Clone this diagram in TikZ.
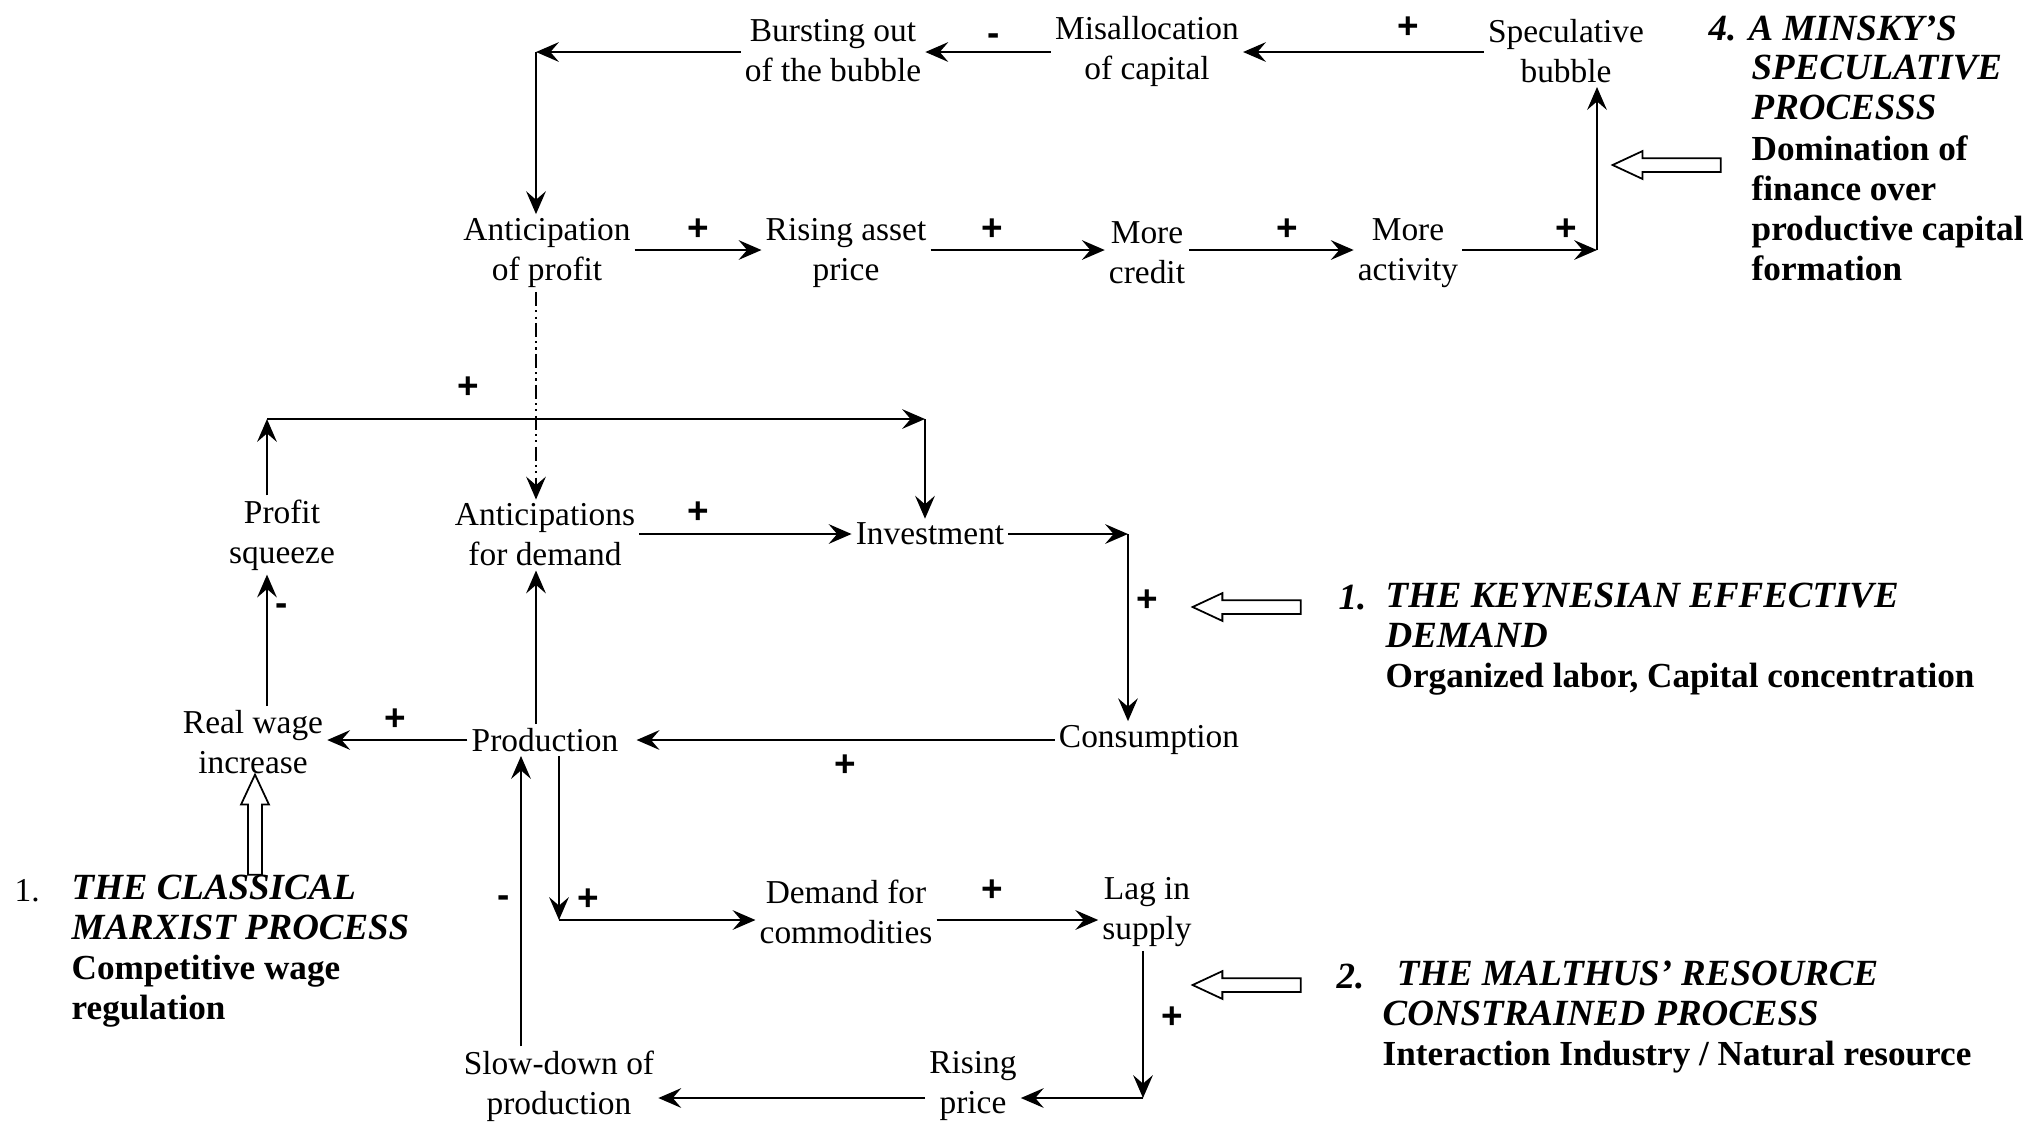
\documentclass[tikz,border=0pt]{standalone}
\usepackage{fontspec}
\setmainfont{Liberation Serif}
\setsansfont{Liberation Sans}
\usetikzlibrary{arrows.meta, shapes.arrows, positioning, calc}

\newcommand{\diagfont}{\fontsize{9.5}{11.4}\selectfont}
\newcommand{\notefont}{\fontsize{10}{11.4}\selectfont\bfseries}
\newcommand{\titlefont}{\fontsize{10.5}{11.4}\selectfont\bfseries\itshape}

\begin{document}
\begin{tikzpicture}[
    x=0.01cm, y=-0.01cm,
    box/.style={align=center, inner sep=1pt, font=\diagfont},
    sign/.style={inner sep=0pt, font=\sffamily\bfseries\fontsize{10.5}{11}\selectfont},
    link/.style={-{Stealth[length=6.5pt, width=5.6pt, inset=2.4pt]}, line width=0.6pt},
    hintline/.style={line width=0.4pt, dash pattern=on 4pt off 1.2pt on 0.6pt off 1.2pt on 0.6pt off 1.2pt},
    hollow/.style={single arrow, draw, line width=0.5pt, inner sep=0.06cm, minimum height=1.08cm, single arrow head extend=0.07cm, single arrow tip angle=50},
    note/.style={align=left, inner sep=0pt, anchor=west, font=\notefont},
]
    \useasboundingbox (0,0) rectangle (2026,1123);

    % Speculative loop
    \node[box] (burst) at (833,51) {Bursting out\\of the bubble};
    \node[box] (misalloc) at (1147,51) {Misallocation\\of capital};
    \node[box] (spec) at (1566,51) {Speculative\\bubble};
    \node[box] (antprofit) at (547,253) {Anticipation\\of profit};
    \node[box] (assetprice) at (846,253) {Rising asset\\price};
    \node[box] (credit) at (1147,253) {More\\credit};
    \node[box] (activity) at (1408,253) {More\\activity};

    % Demand loop
    \node[box] (profit) at (282,535) {Profit\\squeeze};
    \node[box] (antdemand) at (545,535) {Anticipations\\for demand};
    \node[box] (invest) at (930,534) {Investment};
    \node[box] (consum) at (1149,740) {Consumption};
    \node[box] (product) at (545,740) {Production};
    \node[box] (realwage) at (253,742) {Real wage\\increase};

    % Resource loop
    \node[box] (demand) at (846,912) {Demand for\\commodities};
    \node[box] (lag) at (1147,912) {Lag in\\supply};
    \node[box] (rising) at (973,1086) {Rising\\price};
    \node[box] (slowdown) at (559,1086) {Slow-down of\\production};

    % Corners
    \coordinate (c1) at (536,52);
    \coordinate (c2) at (1597,250);
    \coordinate (c3) at (267,419);
    \coordinate (c4) at (925,419);
    \coordinate (c5) at (1128,534);
    \coordinate (c6) at (559,920);
    \coordinate (c7) at (1143,1098);
    \coordinate (c8) at (521,1098);

    % Connectors, top
    \draw[link] (spec.west |- c1) -- (c1 -| misalloc.east);
    \draw[link] (misalloc.west |- c1) -- (c1 -| burst.east);
    \draw[link] (burst.west |- c1) -- (c1);
    \draw[link] (c1) -- (c1 |- antprofit.north);
    \draw[link, hintline] (c1 |- antprofit.south) -- (c1 |- antdemand.north);
    \draw[link] (antprofit.east |- c2) -- (c2 -| assetprice.west);
    \draw[link] (assetprice.east |- c2) -- (c2 -| credit.west);
    \draw[link] (credit.east |- c2) -- (c2 -| activity.west);
    \draw[link] (activity.east |- c2) -- (c2);
    \draw[link] (c2) -- (c2 |- spec.south);

    % Connectors, middle
    \draw[link] (c3 |- profit.north) -- (c3);
    \draw[link] (c3) -- (c4);
    \draw[link] (c4) -- (c4 |- invest.north);
    \draw[link] (antdemand.east |- c5) -- (c5 -| invest.west);
    \draw[link] (invest.east) -- (c5);
    \draw[link] (c5) -- (c5 |- consum.north);
    \draw[link, shorten >=4pt] (consum.west) -- (product.east);
    \draw[link] (product.west) -- (product.west -| realwage.east);
    \draw[link] (c3 |- realwage.north) -- (c3 |- profit.south);
    \draw[link] (c1 |- product.north) -- (c1 |- antdemand.south);

    % Connectors, bottom
    \draw[link] (c6 |- product.south) -- (c6);
    \draw[link] (c6) -- (c6 -| demand.west);
    \draw[link] (demand.east |- c6) -- (c6 -| lag.west);
    \draw[link] (c7 |- lag.south) -- (c7);
    \draw[link] (c7) -- (c7 -| rising.east);
    \draw[link] (rising.west |- c7) -- (c7 -| slowdown.east);
    \draw[link] (c8 |- slowdown.north) -- (c8 |- product.south);

    % Signs
    \node[sign] (s1) at (1408,28) {+};
    \node[sign] (s2) at (994,40) {-};
    \node[sign] (s3) at (698,230) {+};
    \node[sign] (s4) at (992,230) {+};
    \node[sign] (s5) at (1287,230) {+};
    \node[sign] (s6) at (1566,230) {+};
    \node[sign] (s7) at (468,388) {+};
    \node[sign] (s8) at (698,513) {+};
    \node[sign] (s9) at (1147,601) {+};
    \node[sign] (s10) at (845,766) {+};
    \node[sign] (s11) at (395,720) {+};
    \node[sign] (s12) at (282,610) {-};
    \node[sign] (s13) at (588,900) {+};
    \node[sign] (s14) at (504,902) {-};
    \node[sign] (s15) at (992,891) {+};
    \node[sign] (s16) at (1172,1018) {+};

    % Hollow arrows
    \node[hollow, shape border rotate=180] (minskyarrow) at (1674,165) {};
    \node[hollow, shape border rotate=180] (keynesarrow) at (1254,607) {};
    \node[hollow, shape border rotate=180] (malthusarrow) at (1254,985) {};
    \node[hollow, shape border rotate=90, minimum height=1cm] (marxarrow) at (255,832) {};

    % Processes
    \node[note, font=\titlefont] (minskyhead) at (1708,28) {4. A MINSKY’S};
    \node[note] (minskytext) at (1751,168) {{\titlefont SPECULATIVE}\\{\titlefont PROCESSS}\\Domination of\\finance over\\productive capital\\formation};
    \node[note, font=\titlefont] (keynesnum) at (1338,598) {1.};
    \node[note] (keynestext) at (1385,639) {{\titlefont THE KEYNESIAN EFFECTIVE}\\{\titlefont DEMAND}\\Organized labor, Capital concentration};
    \node[note, font=\titlefont] (malthusnum) at (1336,977) {2.};
    \node[note] (malthustext) at (1382,1017) {{\titlefont\hspace*{4pt}THE MALTHUS’ RESOURCE}\\{\titlefont CONSTRAINED PROCESS}\\Interaction Industry / Natural resource};
    \node[note, font=\diagfont] (marxnum) at (14,891) {1.};
    \node[note] (marxtext) at (71,951) {{\titlefont THE CLASSICAL}\\{\titlefont MARXIST PROCESS}\\Competitive wage\\regulation};
\end{tikzpicture}
\end{document}
